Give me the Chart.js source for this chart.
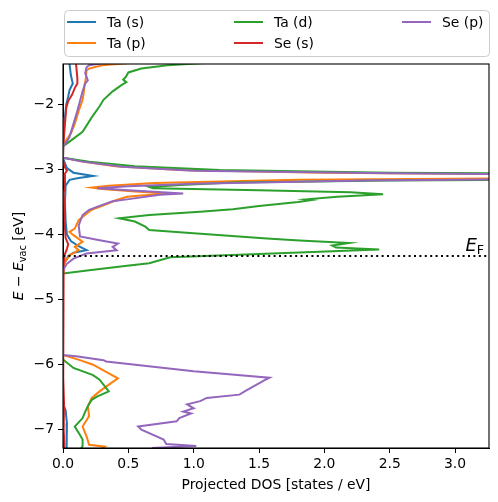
<!DOCTYPE html>
<html lang="en">
<head>
  <meta charset="UTF-8" />
  <title>Projected DOS</title>
  <script src="https://cdn.jsdelivr.net/npm/chart.js"></script>
  <style>
    body { margin: 0; background: #fff; }
    canvas { display: block; }
  </style>
</head>
<body>
  <canvas id="dosChart" width="498" height="502"></canvas>

  <script>
    // axis limits and ticks
    const xMin = 0, xMax = 3.26;
    const yMin = -7.28, yMax = -1.38;
    const xTicks = [0, 0.5, 1, 1.5, 2, 2.5, 3];
    const yTicks = [-7, -6, -5, -4, -3, -2];
    const fermiLevel = -4.33;

    const seriesNames = ['Ta (s)', 'Ta (p)', 'Ta (d)', 'Se (s)', 'Se (p)'];
    const seriesColors = ['#1f77b4', '#ff7f0e', '#2ca02c', '#d62728', '#9467bd'];

    // [energy, dos] pairs
    const taS = [[-1.30, 0.05], [-1.38, 0.05], [-1.55, 0.06], [-1.68, 0.075], [-1.78, 0.05], [-1.88, 0.04],
      [-2.0, 0.025], [-2.2, 0.015], [-2.4, 0.008], [-2.6, 0.002], [-2.65, 0], [-2.82, 0], [-2.88, 0.01],
      [-2.98, 0.03], [-3.05, 0.08], [-3.10, 0.23], [-3.13, 0.12], [-3.16, 0.05], [-3.25, 0.02], [-3.5, 0.015],
      [-3.8, 0.02], [-4.0, 0.03], [-4.1, 0.06], [-4.18, 0.12], [-4.24, 0.18], [-4.28, 0.08], [-4.33, 0.04],
      [-4.45, 0.01], [-4.6, 0], [-6.6, 0], [-6.7, 0.02], [-6.9, 0.03], [-7.1, 0.025], [-7.35, 0.03]];

    const taP = [[-1.30, 0.8], [-1.37, 0.49], [-1.40, 0.30], [-1.45, 0.20], [-1.48, 0.18], [-1.6, 0.175],
      [-1.7, 0.165], [-1.8, 0.16], [-1.93, 0.15], [-2.1, 0.12], [-2.3, 0.09], [-2.45, 0.06], [-2.55, 0.025],
      [-2.63, 0], [-2.82, 0], [-2.88, 0.15], [-2.95, 0.4], [-3.01, 0.9], [-3.05, 2.0], [-3.09, 4.5],
      [-3.13, 4.0], [-3.16, 1.8], [-3.21, 0.7], [-3.25, 0.35], [-3.28, 0.22], [-3.30, 0.30], [-3.34, 0.55],
      [-3.37, 0.82], [-3.40, 0.6], [-3.42, 0.49], [-3.47, 0.41], [-3.55, 0.31], [-3.62, 0.22], [-3.68, 0.18],
      [-3.78, 0.12], [-3.91, 0.09], [-3.96, 0.05], [-4.01, 0.08], [-4.11, 0.15], [-4.19, 0.09], [-4.24, 0.12],
      [-4.32, 0.05], [-4.44, 0.01], [-4.6, 0], [-5.85, 0], [-5.93, 0.13], [-6.0, 0.23], [-6.1, 0.32],
      [-6.21, 0.42], [-6.28, 0.37], [-6.41, 0.28], [-6.51, 0.22], [-6.64, 0.19], [-6.79, 0.20], [-6.95, 0.15],
      [-7.10, 0.18], [-7.23, 0.20], [-7.26, 0.32], [-7.35, 0.25]];

    const taD = [[-1.30, 1.5], [-1.37, 1.05], [-1.40, 0.8], [-1.45, 0.6], [-1.51, 0.50], [-1.58, 0.48],
      [-1.62, 0.46], [-1.66, 0.485], [-1.70, 0.45], [-1.80, 0.38], [-1.93, 0.31], [-2.03, 0.28], [-2.2, 0.22],
      [-2.42, 0.15], [-2.55, 0.065], [-2.63, 0.01], [-2.65, 0], [-2.82, 0], [-2.88, 0.2], [-2.95, 0.55],
      [-3.01, 1.2], [-3.05, 2.5], [-3.08, 5], [-3.14, 5], [-3.17, 2.5], [-3.20, 1.30], [-3.24, 0.9],
      [-3.27, 0.66], [-3.29, 0.69], [-3.32, 1.5], [-3.35, 2.2], [-3.38, 2.45], [-3.42, 2.1], [-3.46, 1.86],
      [-3.47, 1.9], [-3.50, 1.80], [-3.56, 1.5], [-3.61, 1.30], [-3.65, 1.05], [-3.70, 0.66], [-3.75, 0.43],
      [-3.80, 0.55], [-3.88, 0.63], [-3.93, 0.66], [-3.97, 0.92], [-4.06, 1.56], [-4.09, 1.81], [-4.13, 2.19],
      [-4.17, 2.06], [-4.20, 2.09], [-4.23, 2.42], [-4.30, 1.5], [-4.35, 0.82], [-4.44, 0.66], [-4.48, 0.49],
      [-4.55, 0.2], [-4.60, 0], [-5.92, 0], [-6.05, 0.08], [-6.16, 0.23], [-6.23, 0.28], [-6.41, 0.35],
      [-6.49, 0.26], [-6.54, 0.22], [-6.64, 0.19], [-6.72, 0.17], [-6.82, 0.15], [-6.95, 0.09], [-7.08, 0.13],
      [-7.15, 0.15], [-7.25, 0.15], [-7.35, 0.12]];

    const seS = [[-1.30, 0.10], [-1.38, 0.10], [-1.6, 0.11], [-1.68, 0.11], [-1.75, 0.09], [-1.85, 0.07],
      [-1.95, 0.04], [-2.05, 0.025], [-2.3, 0.015], [-2.6, 0.003], [-2.65, 0], [-2.85, 0], [-2.95, 0.01],
      [-3.02, 0.03], [-3.08, 0.01], [-3.3, 0.015], [-3.35, 0.005], [-3.6, 0.01], [-3.9, 0.015], [-4.05, 0.02],
      [-4.15, 0.04], [-4.22, 0.03], [-4.3, 0.015], [-4.45, 0.005], [-4.6, 0], [-5.95, 0], [-6.2, 0.005],
      [-6.6, 0.008], [-7.0, 0.005], [-7.2, 0.01], [-7.35, 0.01]];

    const seP = [[-1.30, 0.5], [-1.37, 0.30], [-1.40, 0.2], [-1.43, 0.18], [-1.52, 0.17], [-1.63, 0.19],
      [-1.68, 0.17], [-1.8, 0.15], [-1.95, 0.13], [-2.1, 0.11], [-2.3, 0.08], [-2.5, 0.05], [-2.57, 0.03],
      [-2.64, 0], [-2.82, 0], [-2.88, 0.15], [-2.96, 0.45], [-3.02, 1.0], [-3.06, 2.5], [-3.09, 5],
      [-3.13, 5], [-3.17, 2.3], [-3.22, 1.0], [-3.26, 0.5], [-3.29, 0.26], [-3.32, 0.5], [-3.37, 0.92],
      [-3.39, 0.74], [-3.46, 0.49], [-3.49, 0.38], [-3.56, 0.28], [-3.62, 0.2], [-3.70, 0.15], [-3.86, 0.12],
      [-4.03, 0.13], [-4.08, 0.26], [-4.14, 0.42], [-4.19, 0.38], [-4.24, 0.41], [-4.29, 0.18], [-4.37, 0.08],
      [-4.45, 0.03], [-4.55, 0], [-5.85, 0], [-5.87, 0.1], [-5.93, 0.31], [-5.95, 0.33], [-6.10, 1.0],
      [-6.20, 1.58], [-6.24, 1.54], [-6.40, 1.40], [-6.46, 1.35], [-6.51, 1.10], [-6.56, 1.05], [-6.61, 0.95],
      [-6.67, 1.0], [-6.72, 0.92], [-6.75, 0.98], [-6.82, 0.89], [-6.87, 0.87], [-6.95, 0.575], [-7.0, 0.6],
      [-7.15, 0.77], [-7.22, 0.79], [-7.25, 1.02], [-7.28, 0.69], [-7.35, 0.7]];

    const seriesData = [taS, taP, taD, seS, seP];

    const FONT = 'DejaVu Sans';
    const FS = 13.9;
    Chart.defaults.font.family = FONT;
    Chart.defaults.color = '#000';

    const datasets = seriesData.map((pts, i) => ({
      label: seriesNames[i],
      data: pts.map(p => ({ x: p[1], y: p[0] })),
      borderColor: seriesColors[i],
      borderWidth: 2,
      pointRadius: 0,
      showLine: true,
      fill: false,
      tension: 0,
      clip: 0,
      order: -i
    }));

    // Fermi level, dotted
    datasets.push({
      label: 'EF',
      data: [{ x: xMin, y: fermiLevel }, { x: xMax, y: fermiLevel }],
      borderColor: '#000',
      borderWidth: 2,
      borderDash: [2, 3.4],
      pointRadius: 0,
      showLine: true,
      clip: 0,
      order: -10
    });

    function drawLegend(ctx) {
      const x0 = 64, y0 = 10, w = 425, h = 46;
      ctx.beginPath();
      ctx.roundRect(x0 + 0.5, y0 + 0.5, w, h, 4);
      ctx.fillStyle = 'rgba(255,255,255,0.8)';
      ctx.fill();
      ctx.strokeStyle = '#cccccc';
      ctx.lineWidth = 1;
      ctx.stroke();

      const colX = [67, 234, 402];
      const rowY = [22, 43];
      ctx.font = FS + 'px "' + FONT + '"';
      ctx.textBaseline = 'middle';
      ctx.textAlign = 'left';
      seriesNames.forEach((name, i) => {
        const col = Math.floor(i / 2), row = i % 2;
        const x = colX[col], y = rowY[row];
        ctx.beginPath();
        ctx.moveTo(x, y);
        ctx.lineTo(x + 29, y);
        ctx.strokeStyle = seriesColors[i];
        ctx.lineWidth = 2;
        ctx.stroke();
        ctx.fillStyle = '#000';
        ctx.fillText(name, x + 40, y + 1);
      });
    }

    // draws a list of [text, style, size, dy] pieces starting at x, y
    function drawPieces(ctx, pieces, x, y) {
      pieces.forEach(p => {
        ctx.font = p[1] + ' ' + p[2] + 'px "' + FONT + '"';
        ctx.fillText(p[0], x, y + p[3]);
        x += ctx.measureText(p[0]).width;
      });
    }
    function piecesWidth(ctx, pieces) {
      let w = 0;
      pieces.forEach(p => {
        ctx.font = p[1] + ' ' + p[2] + 'px "' + FONT + '"';
        w += ctx.measureText(p[0]).width;
      });
      return w;
    }

    const extras = {
      id: 'extras',
      afterDraw(chart) {
        const { ctx, chartArea: a, scales } = chart;
        ctx.save();

        // frame on all four sides
        ctx.strokeStyle = '#000';
        ctx.lineWidth = 1.1;
        ctx.strokeRect(a.left, a.top, a.right - a.left, a.bottom - a.top);

        ctx.fillStyle = '#000';
        ctx.textBaseline = 'alphabetic';
        ctx.textAlign = 'left';

        // x title
        const xt = 'Projected DOS [states / eV]';
        ctx.font = FS + 'px "' + FONT + '"';
        const xw = ctx.measureText(xt).width;
        ctx.fillText(xt, (a.left + a.right) / 2 - xw / 2, 489);

        // y title, rotated
        const yPieces = [['E', 'italic', FS, 0], [' \u2212 ', 'normal', FS, 0], ['E', 'italic', FS, 0],
          ['vac', 'normal', 9.7, 3], [' [eV]', 'normal', FS, 0]];
        const yw = piecesWidth(ctx, yPieces);
        ctx.save();
        ctx.translate(23, (a.top + a.bottom) / 2);
        ctx.rotate(-Math.PI / 2);
        drawPieces(ctx, yPieces, -yw / 2, 0);
        ctx.restore();

        // E_F label
        const ef = [['E', 'italic', 18, 0], ['F', 'normal', 12.6, 3]];
        const ew = piecesWidth(ctx, ef);
        const yPix = scales.y.getPixelForValue(fermiLevel);
        drawPieces(ctx, ef, a.right - 5 - ew, yPix - 5);

        drawLegend(ctx);
        ctx.restore();
      }
    };

    const tickFmt = v => (v < 0 ? '\u2212' : '') + Math.abs(v);

    new Chart(document.getElementById('dosChart').getContext('2d'), {
      type: 'scatter',
      data: { datasets: datasets },
      options: {
        responsive: false,
        animation: false,
        layout: { padding: { top: 64, right: 9, left: 0, bottom: 0 } },
        plugins: { legend: { display: false }, tooltip: { enabled: false } },
        events: [],
        scales: {
          x: {
            type: 'linear',
            min: xMin,
            max: xMax,
            afterBuildTicks: axis => { axis.ticks = xTicks.map(v => ({ value: v })); },
            afterFit: s => { s.height = 54; },
            ticks: {
              callback: v => v.toFixed(1),
              font: { size: FS },
              color: '#000',
              padding: 3,
              maxRotation: 0,
              autoSkip: false
            },
            grid: { drawOnChartArea: false, tickLength: 5, color: '#000', tickWidth: 1 },
            border: { display: true, color: '#000', width: 1 }
          },
          y: {
            type: 'linear',
            min: yMin,
            max: yMax,
            afterBuildTicks: axis => { axis.ticks = yTicks.map(v => ({ value: v })); },
            afterFit: s => { s.width = 63; },
            ticks: {
              callback: tickFmt,
              font: { size: FS },
              color: '#000',
              padding: 4,
              autoSkip: false
            },
            grid: { drawOnChartArea: false, tickLength: 5, color: '#000', tickWidth: 1 },
            border: { display: true, color: '#000', width: 1 }
          }
        }
      },
      plugins: [extras]
    });
  </script>
</body>
</html>
